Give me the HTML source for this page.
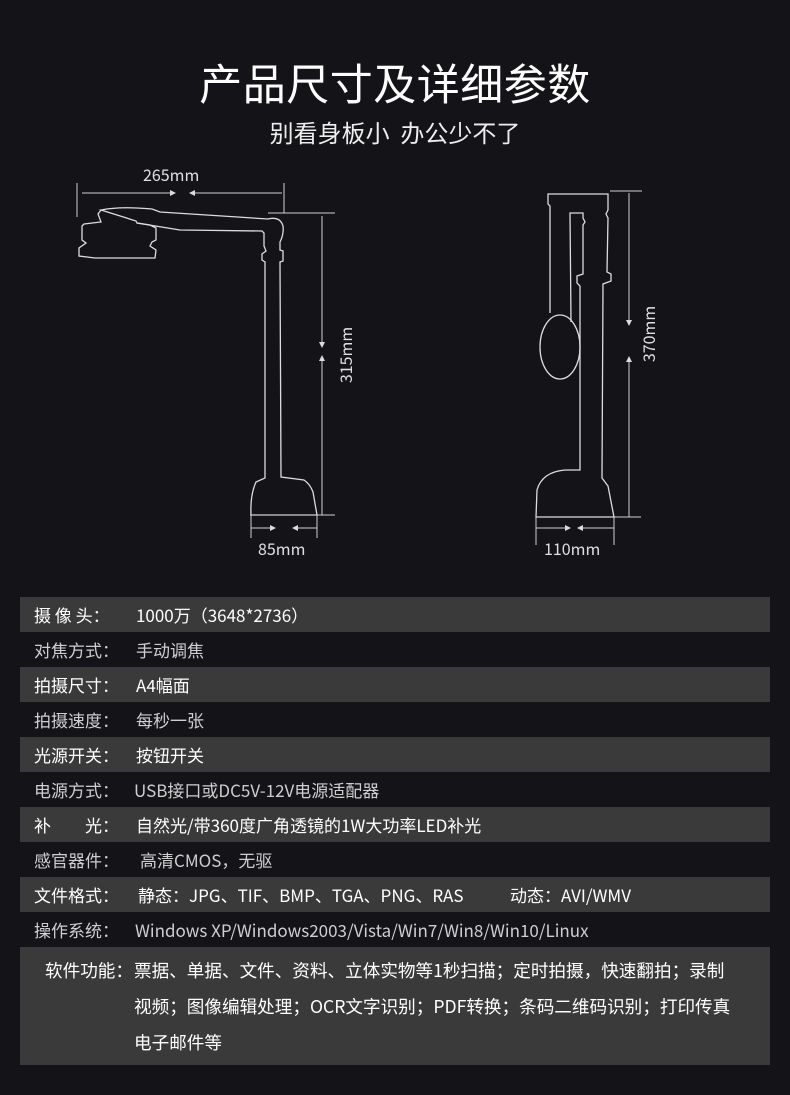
<!DOCTYPE html>
<html><head><meta charset="utf-8"><style>
*{margin:0;padding:0}
body{width:790px;height:1095px;background:#141318;position:relative;overflow:hidden;font-family:"Noto Sans CJK SC","Liberation Sans",sans-serif;color:#fff}
.t{position:absolute;left:0;width:790px;text-align:center;white-space:nowrap}
.row{position:absolute;left:20px;width:750px;height:35px;line-height:35px;font-size:17px;white-space:nowrap}
.row.l{background:#3a3a3b;color:#fff}
.row.d{color:#cfcfcf}
.row .k{position:absolute;left:14px}
.row .v{position:absolute;left:116px}
.box{position:absolute;left:20px;top:947px;width:750px;height:118px;background:#3a3a3b;font-size:17.6px;color:#fff}
.box div{position:absolute;white-space:nowrap;line-height:24px}
.dim{position:absolute;font-size:16px;color:#e0e0e0;line-height:20px}
</style></head><body>
<div class="t" style="top:54px;font-size:43px;letter-spacing:0.5px;line-height:56px">产品尺寸及详细参数</div>
<div class="t" style="top:115px;font-size:24px;line-height:34px;color:#eee">别看身板小&nbsp;&nbsp;办公少不了</div>

<svg width="790" height="590" style="position:absolute;left:0;top:0" fill="none" stroke="#dcdcdc" stroke-width="1.3">
<path d="M101,210 Q120,206 152,209 L160,212 L268,219 Q280,216 283,226 Q284,234 280,242 L280,250 L283,251 L283,261 L280,262 L281,477 L304,480 Q310,484 313,492 L317,515 L251,515 Q250,495 256,482 L265,478 L265,262 L262,260 L262,254 L266,251 L264,246 L264,233 L262,231 L180,230 L137,223 L136,221 Z"/>
<path d="M101,210 L98,214 L101,222 L84,224 L82,226 L82,240 L86,243 L79,248 L79,256 L95,258 L155,258 L156,250 L150,246 L152,242 L156,240 L156,228 L150,225 L137,223"/>
<g stroke="#cfcfcf" stroke-width="1">
<line x1="77" y1="183" x2="77" y2="217"/><line x1="284" y1="183" x2="284" y2="213"/>
<line x1="82" y1="193" x2="175" y2="193"/><line x1="190" y1="193" x2="282" y2="193"/>
<line x1="268" y1="213" x2="335" y2="213"/><line x1="322" y1="216" x2="322" y2="347"/><line x1="322" y1="356" x2="322" y2="515"/>
<line x1="250" y1="515" x2="335" y2="515"/>
<line x1="251" y1="515" x2="251" y2="538"/><line x1="317" y1="515" x2="317" y2="538"/>
<line x1="251" y1="528" x2="275" y2="528"/><line x1="293" y1="528" x2="317" y2="528"/>
<line x1="610" y1="191" x2="642" y2="191"/><line x1="629" y1="193" x2="629" y2="325"/><line x1="629" y1="357" x2="629" y2="517"/>
<line x1="536" y1="517" x2="641" y2="517"/>
<line x1="536" y1="517" x2="536" y2="545"/><line x1="614" y1="517" x2="614" y2="545"/>
<line x1="536" y1="528" x2="570" y2="528"/><line x1="578" y1="528" x2="614" y2="528"/>
</g>
<g fill="#dcdcdc" stroke="none">
<path d="M176,193 l-6,-3 v6z"/><path d="M189,193 l6,-3 v6z"/>
<path d="M322,348 l-3,-6 h6z"/><path d="M322,355 l-3,6 h6z"/>
<path d="M276,528 l-6,-3 v6z"/><path d="M292,528 l6,-3 v6z"/>
<path d="M629,326 l-3,-6 h6z"/><path d="M629,356 l-3,6 h6z"/>
<path d="M571,528 l-6,-3 v6z"/><path d="M577,528 l6,-3 v6z"/>
</g>
<path d="M550,313 L550,206 L548,204 L548,194 L608,194 L608,210 L606,214 L608,218 L607,272 L611,274 L611,281 L603,284 L602,478 L608,486 L614,517 L536,517 L537,490 Q542,472 565,470 L580,470 L580,286 L577,283 L577,276 L583,274 L583,225 L585,222 L583,218 L583,213 L570,213 L571,322"/>
<ellipse cx="560" cy="347" rx="20" ry="32"/>
</svg>
<div class="dim" style="left:143px;top:164px">265mm</div>
<div class="dim" style="left:258px;top:538px">85mm</div>
<div class="dim" style="left:544px;top:538px">110mm</div>
<div class="dim" style="left:305px;top:345px;transform:rotate(-90deg);width:80px;text-align:center">315mm</div>
<div class="dim" style="left:608px;top:324px;transform:rotate(-90deg);width:80px;text-align:center">370mm</div>

<div class="row l" style="top:597px"><span class="k">摄 像 头：</span><span class="v">1000万（3648*2736）</span></div>
<div class="row d" style="top:632px"><span class="k">对焦方式：</span><span class="v">手动调焦</span></div>
<div class="row l" style="top:667px"><span class="k">拍摄尺寸：</span><span class="v">A4幅面</span></div>
<div class="row d" style="top:702px"><span class="k">拍摄速度：</span><span class="v">每秒一张</span></div>
<div class="row l" style="top:737px"><span class="k">光源开关：</span><span class="v">按钮开关</span></div>
<div class="row d" style="top:772px"><span class="k">电源方式：</span><span class="v" style="left:114px">USB接口或DC5V-12V电源适配器</span></div>
<div class="row l" style="top:807px"><span class="k">补　　光：</span><span class="v">自然光/带360度广角透镜的1W大功率LED补光</span></div>
<div class="row d" style="top:842px"><span class="k">感官器件：</span><span class="v" style="left:120px">高清CMOS，无驱</span></div>
<div class="row l" style="top:877px"><span class="k">文件格式：</span><span class="v" style="left:118px">静态：JPG、TIF、BMP、TGA、PNG、RAS</span><span class="v" style="left:490px">动态：AVI/WMV</span></div>
<div class="row d" style="top:912px"><span class="k">操作系统：</span><span class="v" style="left:115px">Windows XP/Windows2003/Vista/Win7/Win8/Win10/Linux</span></div>
<div class="box">
<div style="left:25px;top:12px">软件功能：</div>
<div style="left:114px;top:12px">票据、单据、文件、资料、立体实物等1秒扫描；定时拍摄，快速翻拍；录制</div>
<div style="left:114px;top:48px">视频；图像编辑处理；OCR文字识别；PDF转换；条码二维码识别；打印传真</div>
<div style="left:114px;top:84px">电子邮件等</div>
</div>
</body></html>
